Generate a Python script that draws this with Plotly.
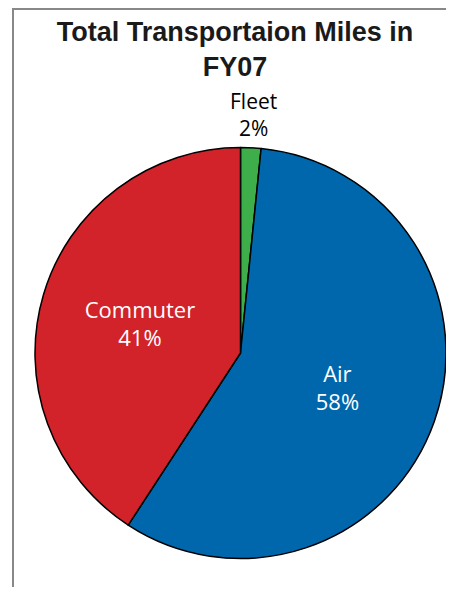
import plotly.graph_objects as go

labels = ["Fleet", "Air", "Commuter"]
values = [1.6, 57.6, 40.8]
colors = ["#3DAE49", "#0067AC", "#D2232A"]
text_colors = ["#000000", "#FFFFFF", "#FFFFFF"]

# the page body adds an 8px margin around the figure
W, H = 438, 579

total = sum(values)
fleet_text = f"{labels[0]}<br>{round(100 * values[0] / total)}%"

fig = go.Figure(go.Pie(
    labels=labels,
    values=values,
    sort=False,
    direction="clockwise",
    rotation=0,
    marker=dict(colors=colors, line=dict(color="#000000", width=1.5)),
    texttemplate=["", "%{label}<br>%{percent:.0%}", "%{label}<br>%{percent:.0%}"],
    textposition=["none", "inside", "inside"],
    insidetextorientation="horizontal",
    textfont=dict(family="Open Sans, Lato, sans-serif", size=22, color=text_colors),
    showlegend=False,
    hoverinfo="label+percent",
    domain=dict(x=[27/W, 1.0], y=[1 - 571/H, 1 - 119/H]),
))

fig.update_layout(
    width=W, height=H,
    margin=dict(l=0, r=0, t=0, b=0),
    paper_bgcolor="white",
    title=dict(
        text="<b>Total Transportaion Miles in<br>FY07</b>",
        x=227/W, xanchor="center", y=1 - 33/H, yanchor="top",
        font=dict(family="Liberation Sans, Arial, sans-serif", size=27, color="#1a1a1a"),
    ),
    annotations=[
        dict(text=fleet_text, xref="paper", yref="paper", x=245/W, y=1 - 106/H,
             xanchor="center", yanchor="middle", showarrow=False, align="center",
             font=dict(family="Open Sans, Lato, sans-serif", size=21, color="#000000")),
    ],
    shapes=[
        dict(type="line", xref="paper", yref="paper", x0=5/W, x1=5/W, y0=0, y1=1,
             line=dict(color="#888888", width=2)),
        dict(type="line", xref="paper", yref="paper", x0=4/W, x1=1, y0=1 - 1/H, y1=1 - 1/H,
             line=dict(color="#888888", width=2)),
    ],
)

fig.write_html("out.html")
